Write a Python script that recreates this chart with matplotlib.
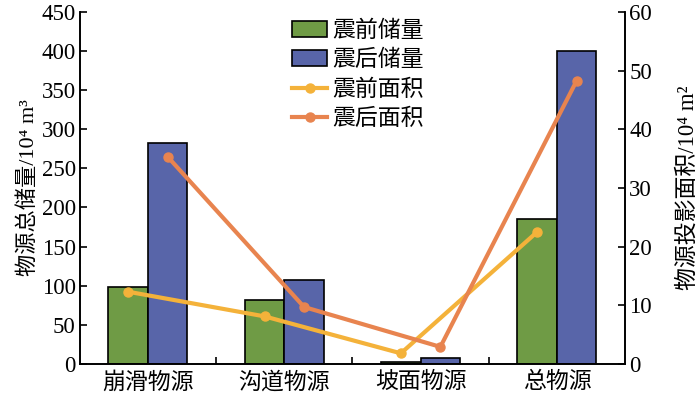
import matplotlib
matplotlib.use('Agg')
import matplotlib.pyplot as plt
import numpy as np

# data
categories = ['崩滑物源', '沟道物源', '坡面物源', '总物源']
volume_before = [98, 82, 3, 185]      # 10^4 m^3
volume_after = [282, 107, 8, 400]     # 10^4 m^3
area_before = [12.3, 8.1, 1.8, 22.5]  # 10^4 m^2
area_after = [35.3, 9.7, 2.9, 48.3]   # 10^4 m^2

plt.rcParams['font.family'] = ['Liberation Serif', 'Noto Sans CJK SC', 'DejaVu Serif']

green = '#6f9b45'
blue = '#5865a9'
yellow = '#f4b23a'
orange = '#e8844f'

fig = plt.figure(figsize=(7, 3.99), dpi=100)
ax = fig.add_axes([0.114, 0.088, 0.779, 0.882])
ax2 = ax.twinx()

x = np.arange(len(categories))
w = 0.29
b1 = ax.bar(x - w / 2, volume_before, w, color=green, edgecolor='black', linewidth=1.2)
b2 = ax.bar(x + w / 2, volume_after, w, color=blue, edgecolor='black', linewidth=1.2)

l1, = ax2.plot(x - w / 2, area_before, color=yellow, lw=3, marker='o', ms=6.5)
l2, = ax2.plot(x + w / 2, area_after, color=orange, lw=3, marker='o', ms=6.5)

ax.set_xlim(-0.5, 3.5)
ax.set_ylim(0, 450)
ax2.set_ylim(0, 60)
ax.set_yticks(np.arange(0, 451, 50))
ax2.set_yticks(np.arange(0, 61, 10))

ax.set_xticks(x)
ax.set_xticklabels(categories, fontsize=16.5)
ax.tick_params(axis='x', which='major', length=0, pad=6)
ax.set_xticks([0.5, 1.5, 2.5], minor=True)
ax.tick_params(axis='x', which='minor', direction='in', length=5, width=1.2)
ax.tick_params(axis='y', direction='in', length=5, width=1.2, labelsize=16.5, pad=3)
ax2.tick_params(axis='y', direction='in', length=5, width=1.2, labelsize=16.5, pad=3)

for a in (ax, ax2):
    a.spines['top'].set_visible(False)
    for s in ('left', 'right', 'bottom'):
        a.spines[s].set_linewidth(1.2)

ax.set_ylabel('物源总储量/10⁴ m³', fontsize=16, labelpad=2)
ax2.set_ylabel('物源投影面积/10⁴ m²', fontsize=16.5, labelpad=18)

ax.legend([b1, b2, l1, l2], ['震前储量', '震后储量', '震前面积', '震后面积'],
          loc='upper left', bbox_to_anchor=(0.352, 1.035), frameon=False,
          fontsize=16.5, handlelength=1.5, handletextpad=0.25, labelspacing=0.36)

fig.savefig('out.png', dpi=100)
